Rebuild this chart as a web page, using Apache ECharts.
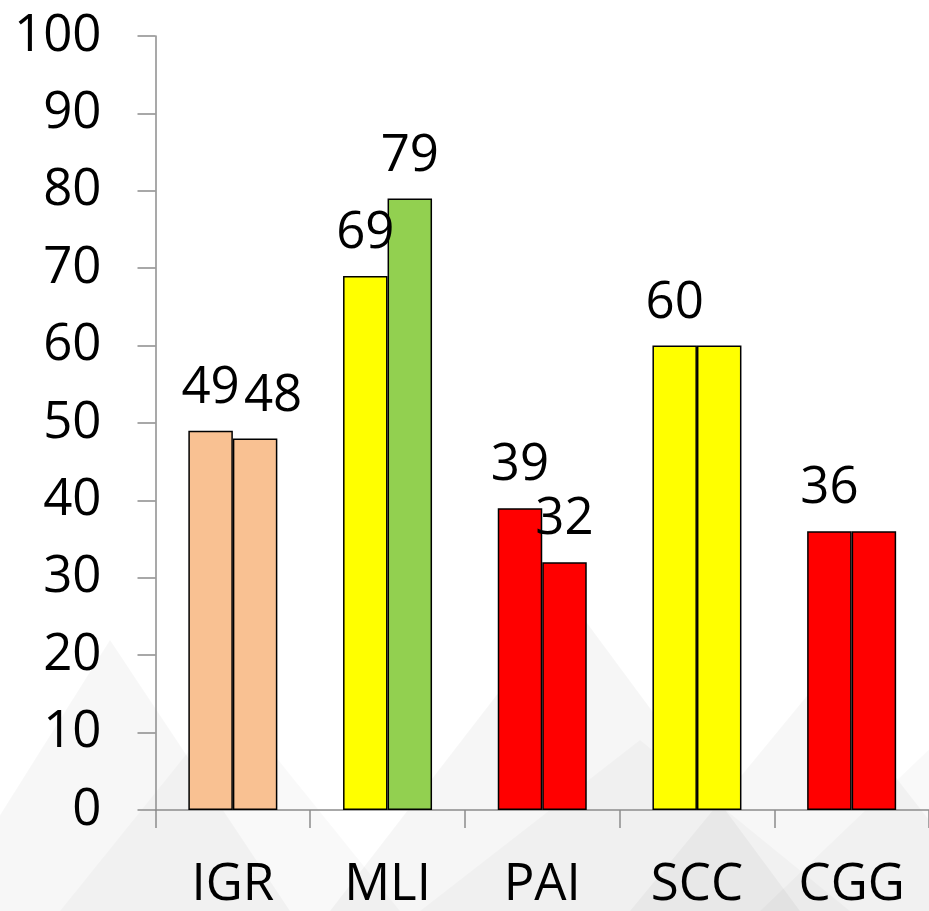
<!DOCTYPE html>
<html>
<head>
<meta charset="utf-8">
<script src="https://cdn.jsdelivr.net/npm/echarts@6/dist/echarts.min.js"></script>
<style>html,body{margin:0;padding:0;background:#fff;}#c{width:929px;height:911px;}</style>
</head>
<body>
<div id="c"></div>
<script>
const categories = ['IGR', 'MLI', 'PAI', 'SCC', 'CGG'];
const series1 = [49, 69, 39, 60, 36];
const series2 = [48, 79, 32, 60, 36];
const colors1 = ['#F9C192', '#FFFF00', '#FF0000', '#FFFF00', '#FF0000'];
const colors2 = ['#F9C192', '#92D050', '#FF0000', '#FFFF00', '#FF0000'];
const showLabel2 = [true, true, true, false, false];
const yTicks = [0, 10, 20, 30, 40, 50, 60, 70, 80, 90, 100];

const FONT = 'Open Sans';
const chart = echarts.init(document.getElementById('c'));
const labelBase = { show: true, position: 'top', distance: 17, color: '#000', fontSize: 51, fontFamily: FONT };

const tri = (pts, fill) => ({ type: 'polygon', shape: { points: pts }, style: { fill: fill }, silent: true, z: -10 });

chart.setOption({
  animation: false,
  backgroundColor: '#ffffff',
  graphic: [
    tri([[-60, 911], [110, 640], [290, 911]], 'rgba(0,0,0,0.03)'),
    tri([[60, 911], [230, 700], [400, 911]], 'rgba(0,0,0,0.025)'),
    tri([[330, 911], [570, 600], [800, 911]], 'rgba(0,0,0,0.035)'),
    tri([[420, 911], [640, 740], [850, 911]], 'rgba(0,0,0,0.025)'),
    tri([[630, 911], [820, 680], [1000, 911]], 'rgba(0,0,0,0.03)'),
    tri([[760, 911], [960, 720], [1100, 911]], 'rgba(0,0,0,0.025)')
  ],
  grid: { left: 155.5, top: 36, width: 777, height: 774.7, containLabel: false },
  xAxis: {
    type: 'category',
    data: categories,
    axisLine: { show: true, lineStyle: { color: '#8c8c8c', width: 1.5 } },
    axisTick: { show: true, length: 18, lineStyle: { color: '#8c8c8c', width: 1.5 } },
    axisLabel: { color: '#000', fontSize: 51, fontFamily: FONT, margin: 50 },
    splitLine: { show: false }
  },
  yAxis: {
    type: 'value',
    min: 0, max: 100, interval: 10,
    axisLine: { show: true, lineStyle: { color: '#8c8c8c', width: 1.5 } },
    axisTick: { show: true, length: 18, lineStyle: { color: '#8c8c8c', width: 1.5 } },
    axisLabel: { color: '#000', fontSize: 51, fontFamily: FONT, margin: 54,
      formatter: v => yTicks.includes(v) ? String(v) : '' },
    splitLine: { show: false }
  },
  series: [
    {
      type: 'bar',
      barWidth: 44.5,
      barGap: '0%',
      data: series1.map((v, i) => ({ value: v, itemStyle: { color: colors1[i] } })),
      itemStyle: { borderColor: '#000', borderWidth: 1.5 },
      label: labelBase
    },
    {
      type: 'bar',
      barWidth: 44.5,
      barGap: '0%',
      data: series2.map((v, i) => ({
        value: v,
        itemStyle: { color: colors2[i] },
        label: Object.assign({}, labelBase, { show: showLabel2[i] }, i === 0 ? { offset: [18, 0] } : {})
      })),
      itemStyle: { borderColor: '#000', borderWidth: 1.5 },
      label: labelBase
    }
  ]
});
</script>
</body>
</html>
